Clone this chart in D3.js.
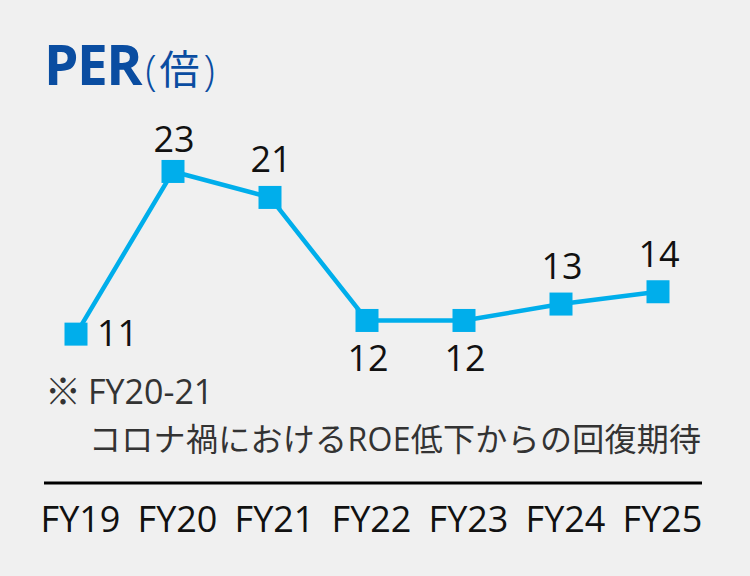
<!DOCTYPE html>
<html>
<head>
<meta charset="utf-8">
<script src="https://cdn.jsdelivr.net/npm/d3@7"></script>
<style>
  html, body { margin: 0; padding: 0; background: #f0f0f0; }
  svg { display: block; }
</style>
</head>
<body>
<svg id="chart" width="750" height="576"></svg>
<script>
// ---- data ----
const categories = ["FY19", "FY20", "FY21", "FY22", "FY23", "FY24", "FY25"];
const perValues  = [11.0, 22.9, 21.0, 12.0, 12.0, 13.2, 14.1];
const labelSides = ["right", "above", "above", "below", "below", "above", "above"];
const titleText  = "PER";
const unitText   = ["(", "倍", ")"];
const noteMark   = "※";
const noteLines  = ["FY20-21", "コロナ禍におけるROE低下からの回復期待"];

// ---- setup ----
const W = 750, H = 576;
const latin = "'Open Sans', 'Noto Sans', 'Noto Sans CJK JP', sans-serif";
const cjk = "'Noto Sans CJK JP', 'Open Sans', sans-serif";
const lineColor = "#00aeeb";
const titleColor = "#0a4da1";
const textW = 400;

const svg = d3.select("#chart");
svg.append("rect").attr("width", W).attr("height", H).attr("fill", "#f0f0f0");

const x = d3.scalePoint().domain(categories).range([76, 658]);
const y = d3.scaleLinear().domain([0, 25]).range([484.5, 484.5 - 25 * 13.67]);

// title
const title = svg.append("text")
  .attr("x", 44).attr("y", 85)
  .attr("fill", titleColor);
title.append("tspan")
  .attr("font-family", latin).attr("font-weight", 700)
  .attr("font-size", 55).attr("letter-spacing", -1.5)
  .text(titleText);
title.append("tspan")
  .attr("font-family", latin).attr("font-weight", 300)
  .attr("font-size", 42).attr("dx", 4).attr("dy", 0)
  .text(unitText[0]);
title.append("tspan")
  .attr("font-family", cjk).attr("font-weight", 400)
  .attr("font-size", 40).attr("dx", 3).attr("dy", -1)
  .text(unitText[1]);
title.append("tspan")
  .attr("font-family", latin).attr("font-weight", 300)
  .attr("font-size", 42).attr("dx", 4).attr("dy", 1)
  .text(unitText[2]);

// line
const line = d3.line().x((d, i) => x(categories[i])).y(d => y(d));
svg.append("path")
  .datum(perValues)
  .attr("d", line)
  .attr("fill", "none")
  .attr("stroke", lineColor)
  .attr("stroke-width", 4.5)
  .attr("stroke-linejoin", "round");

// markers
const ms = 23;
svg.selectAll("rect.marker")
  .data(perValues)
  .join("rect")
  .attr("class", "marker")
  .attr("x", (d, i) => x(categories[i]) - ms / 2)
  .attr("y", d => y(d) - ms / 2)
  .attr("width", ms).attr("height", ms)
  .attr("fill", lineColor);

// value labels
const fmt = d3.format(".0f");
svg.selectAll("text.val")
  .data(perValues)
  .join("text")
  .attr("class", "val")
  .attr("font-family", latin)
  .attr("font-weight", textW)
  .attr("font-size", 36)
  .attr("fill", "#111")
  .attr("text-anchor", (d, i) => labelSides[i] === "right" ? "start" : "middle")
  .attr("x", (d, i) => labelSides[i] === "right" ? x(categories[i]) + 21 : x(categories[i]) + 1)
  .attr("y", (d, i) => {
    const cy = y(d);
    if (labelSides[i] === "right") return cy + 12;
    if (labelSides[i] === "below") return cy + 51;
    return Math.max(cy - 25, 152);
  })
  .text(d => fmt(d));

// note
svg.append("text")
  .attr("x", 45).attr("y", 405)
  .attr("font-family", cjk).attr("font-weight", 400)
  .attr("font-size", 36).attr("fill", "#333")
  .text(noteMark);
svg.append("text")
  .attr("x", 88).attr("y", 404)
  .attr("font-family", latin).attr("font-weight", textW)
  .attr("font-size", 34).attr("fill", "#333")
  .text(noteLines[0]);
svg.append("text")
  .attr("x", 89).attr("y", 451)
  .attr("font-family", latin).attr("font-weight", textW)
  .attr("font-size", 32).attr("letter-spacing", 0.3).attr("fill", "#333")
  .text(noteLines[1]);

// baseline axis
svg.append("line")
  .attr("x1", 44).attr("x2", 702)
  .attr("y1", 483).attr("y2", 483)
  .attr("stroke", "#000").attr("stroke-width", 3);

const xAxis = d3.axisBottom(x).tickSize(0).tickPadding(0);
const gx = svg.append("g")
  .attr("transform", "translate(4, 506)")
  .call(xAxis);
gx.select(".domain").remove();
gx.selectAll("text")
  .attr("font-family", latin)
  .attr("font-weight", textW)
  .attr("font-size", 36)
  .attr("fill", "#111")
  .attr("dy", "0.71em");
</script>
</body>
</html>
